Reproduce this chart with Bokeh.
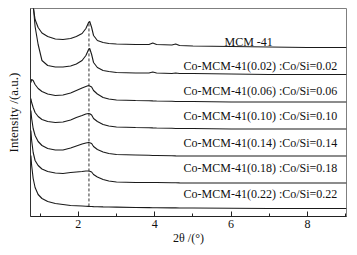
import numpy as np
from bokeh.plotting import figure
from bokeh.models import Range1d, FixedTicker, ColumnDataSource
from bokeh.embed import file_html
from bokeh.resources import INLINE
from bokeh.core.properties import value

# 2theta positions (degrees) at which the curves were read
two_theta = [0.76, 0.78, 0.82, 0.87, 0.95, 1.05, 1.2, 1.4, 1.6, 1.8, 1.95, 2.1, 2.2,
             2.27, 2.3, 2.35, 2.4, 2.5, 2.65, 2.8, 3.0, 3.5, 3.85, 3.95, 4.05, 4.45,
             4.55, 4.65, 5.0, 6.0, 7.0, 8.0, 9.02]

# intensities (offset, arbitrary units)
mcm41 = [300, 270, 210, 197, 189, 183.5, 180, 177.5, 177, 178, 180, 183, 188,
         194, 195, 189, 181, 176, 174, 173, 172.5, 172, 172, 173.5, 172, 171.5,
         172.5, 171, 170.5, 170, 169.5, 169, 169]
co002 = [260, 235, 212, 190, 172, 156, 151, 149.5, 149.5, 150.5, 152.5, 156, 161,
         167, 168, 162, 154, 149, 146, 145, 144, 143.5, 143.5, 144.5, 143.5, 143,
         143.5, 143, 143, 142.5, 142, 142, 142]
co006 = [134, 137, 136, 132, 128, 125, 122.5, 121, 121.5, 123.5, 126, 128.5, 130,
         131, 130.5, 129.5, 126, 122.5, 119, 117.5, 116.5, 116, 115.8, 115.6, 115.5, 115.2,
         115, 115, 115, 114.5, 114.5, 114.5, 114.5]
co010 = [118, 114, 109, 104, 100, 97, 95, 94, 94.5, 96.5, 99, 101, 102.5,
         103, 102.8, 101.5, 98, 95, 92, 90.5, 89.5, 89, 88.8, 88.6, 88.5, 88.2,
         88, 88, 88, 87.5, 87.5, 87.5, 87.5]
co014 = [106, 98, 88, 81, 75, 71, 68, 66.5, 66.5, 68.5, 70.5, 72.5, 73.5,
         74, 73.8, 73, 70, 67, 64.5, 63, 62, 61.5, 61.2, 61, 61, 60.8,
         60.6, 60.5, 60.5, 60.5, 60.5, 60.5, 60.5]
co018 = [86, 76, 64, 56, 51, 47.5, 45, 43.5, 43, 44, 44.5, 45, 45.5,
         45.5, 45.3, 44.5, 42, 39.5, 37, 35.5, 34.5, 34, 34, 34, 34, 33.8,
         33.7, 33.6, 33.5, 33.5, 33.5, 33.5, 33.5]
co022 = [61, 51, 38, 29, 22, 18, 15, 13, 12, 11, 10.8, 10.5, 10.3,
         10.1, 10, 10, 9.9, 9.8, 9.6, 9.5, 9.4, 9, 8.9, 8.8, 8.8, 8.6,
         8.6, 8.5, 8.5, 8.3, 8, 8, 8]

series = [mcm41, co002, co006, co010, co014, co018, co022]
series_labels = ["MCM -41",
                 "Co-MCM-41(0.02) :Co/Si=0.02",
                 "Co-MCM-41(0.06) :Co/Si=0.06",
                 "Co-MCM-41(0.10) :Co/Si=0.10",
                 "Co-MCM-41(0.14) :Co/Si=0.14",
                 "Co-MCM-41(0.18) :Co/Si=0.18",
                 "Co-MCM-41(0.22) :Co/Si=0.22"]
label_x = [6.46, 8.78, 8.78, 8.78, 8.78, 8.78, 8.78]
label_y = [175, 151, 126, 101, 74, 49, 23]
label_align = ["center", "right", "right", "right", "right", "right", "right"]

x_ticks = [2, 4, 6, 8]
x_minor_ticks = [1, 3, 5, 7, 9]
peak_2theta = 2.28

FONT = "Liberation Serif"

p = figure(frame_width=316, frame_height=208, output_backend="svg", toolbar_location=None,
           x_range=Range1d(0.75, 9.02), y_range=Range1d(0, 208),
           min_border_left=30, min_border_right=11, min_border_top=8,
           min_border_bottom=39)
p.grid.visible = False
p.outline_line_color = "#7f7f7f"
p.background_fill_color = "white"
p.border_fill_color = "white"

for ys in series:
    p.line(two_theta, ys, line_color="#1a1a1a", line_width=1.1)

# dashed guide through the (100) reflection
top = float(np.interp(peak_2theta, two_theta, mcm41))
bottom = float(np.interp(peak_2theta, two_theta, co022))
p.segment(x0=[peak_2theta], y0=[bottom], x1=[peak_2theta], y1=[top],
          line_color="#333333", line_width=1, line_dash="3 2")

src = ColumnDataSource(dict(x=label_x, y=label_y, t=series_labels, a=label_align))
p.text(x="x", y="y", text="t", text_align="a", source=src,
       text_font=value(FONT), text_font_size="12px", text_baseline="middle",
       text_color="#111111")

xa = p.xaxis[0]
xa.ticker = FixedTicker(ticks=x_ticks, minor_ticks=x_minor_ticks)
xa.major_tick_in = 5
xa.major_tick_out = 0
xa.minor_tick_in = 3
xa.minor_tick_out = 0
xa.axis_line_color = "#222222"
xa.major_tick_line_color = "#222222"
xa.minor_tick_line_color = "#222222"
xa.major_label_text_font = FONT
xa.major_label_text_font_size = "12px"
xa.major_label_text_color = "#111111"
xa.major_label_standoff = 3
xa.axis_label = "2θ /(°)"
xa.axis_label_text_font = FONT
xa.axis_label_text_font_size = "12px"
xa.axis_label_text_font_style = "normal"
xa.axis_label_text_color = "#111111"
xa.axis_label_standoff = 0

ya = p.yaxis[0]
ya.ticker = FixedTicker(ticks=[])
ya.major_tick_line_color = None
ya.minor_tick_line_color = None
ya.major_tick_out = 0
ya.major_label_standoff = 0
ya.axis_line_color = "#333333"
ya.axis_label = "Intensity /(a.u.)"
ya.axis_label_text_font = FONT
ya.axis_label_text_font_size = "13px"
ya.axis_label_text_font_style = "normal"
ya.axis_label_text_color = "#111111"
ya.axis_label_standoff = 10

open("out.html", "w").write(file_html(p, INLINE))
